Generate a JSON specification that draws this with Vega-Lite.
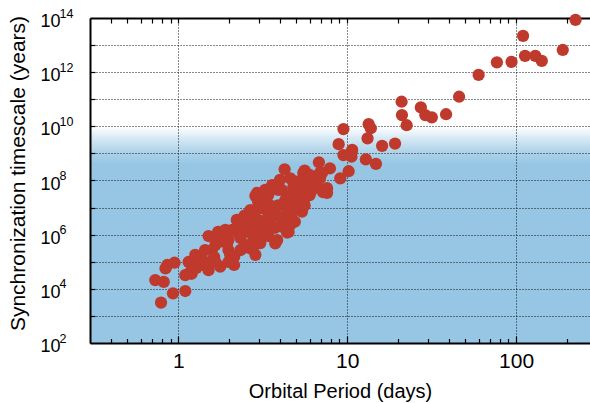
{
  "$schema": "https://vega.github.io/schema/vega-lite/v6.json",
  "autosize": {"type": "none"},
  "padding": {"left": 90, "top": 18, "right": 0, "bottom": 60},
  "width": 500,
  "height": 325,
  "background": "white",
  "view": {
    "stroke": null,
    "fill": {
      "gradient": "linear", "x1": 0, "y1": 0, "x2": 0, "y2": 1,
      "stops": [
        {"offset": 0, "color": "#ffffff"},
        {"offset": 0.335, "color": "#ffffff"},
        {"offset": 0.37, "color": "#d6e9f5"},
        {"offset": 0.41, "color": "#b0d4ea"},
        {"offset": 0.45, "color": "#96c6e4"},
        {"offset": 1, "color": "#96c6e4"}
      ]
    }
  },
  "config": {
    "axis": {
      "labelFont": "Liberation Sans",
      "titleFont": "Liberation Sans",
      "labelColor": "#000",
      "titleColor": "#000",
      "titleFontWeight": "normal",
      "domainColor": "#000",
      "tickColor": "#000",
      "gridColor": "#111",
      "gridDash": [1, 2],
      "gridWidth": 1,
      "zindex": 0
    }
  },
  "data": {
    "values": [
      {"P": 225, "T": 8.5e13}, {"P": 110, "T": 2.2e13}, {"P": 189, "T": 6.6e12}, {"P": 113, "T": 4.0e12},
      {"P": 130, "T": 4.0e12}, {"P": 142, "T": 2.6e12}, {"P": 77, "T": 2.3e12}, {"P": 94, "T": 2.4e12},
      {"P": 60, "T": 7.9e11}, {"P": 46, "T": 1.24e11}, {"P": 38.5, "T": 2.8e10}, {"P": 31.7, "T": 2.15e10},
      {"P": 29, "T": 2.6e10}, {"P": 27.3, "T": 5.0e10}, {"P": 21, "T": 8.1e10}, {"P": 21.1, "T": 2.6e10},
      {"P": 22.5, "T": 1.1e10}, {"P": 19.2, "T": 2.3e9}, {"P": 16.1, "T": 1.9e9}, {"P": 13.4, "T": 1.2e10},
      {"P": 13.8, "T": 8.5e9}, {"P": 13.2, "T": 3.6e9}, {"P": 9.5, "T": 7.9e9}, {"P": 12.9, "T": 6.0e8},
      {"P": 14.8, "T": 4.1e8}, {"P": 10.7, "T": 1.35e9}, {"P": 8.9, "T": 2.2e9}, {"P": 10.2, "T": 2.2e8},
      {"P": 9.1, "T": 1.2e8}, {"P": 7.9, "T": 2.8e8}, {"P": 6.8, "T": 4.7e8}, {"P": 5.6, "T": 2.3e8},
      {"P": 9.5, "T": 8.7e8}, {"P": 10.6, "T": 7.6e8}, {"P": 7.6, "T": 5.2e7}, {"P": 6.2, "T": 6.8e7},
      {"P": 5.3, "T": 1.0e8}, {"P": 4.26, "T": 2.6e8}, {"P": 6.9, "T": 1.9e8}, {"P": 7.6, "T": 3.5e7},
      {"P": 4.8, "T": 5.1e7}, {"P": 5.6, "T": 2.2e7}, {"P": 2.86, "T": 2.7e7}, {"P": 3.2, "T": 2.9e7},
      {"P": 4.1, "T": 4.5e7}, {"P": 3.6, "T": 6.5e7}, {"P": 5.4, "T": 7.1e6}, {"P": 4.9, "T": 3.0e6},
      {"P": 4.5, "T": 1.25e6}, {"P": 3.75, "T": 4.8e5}, {"P": 2.67, "T": 3.1e5}, {"P": 2.22, "T": 3.5e6},
      {"P": 2.14, "T": 1.5e5}, {"P": 2.14, "T": 7.6e4}, {"P": 0.79, "T": 3.1e3}, {"P": 0.93, "T": 6.8e3},
      {"P": 1.1, "T": 8.3e3}, {"P": 0.73, "T": 2.1e4}, {"P": 0.82, "T": 1.8e4}, {"P": 0.84, "T": 5.7e4},
      {"P": 0.86, "T": 7.6e4}, {"P": 0.95, "T": 9.2e4}, {"P": 1.2, "T": 3.6e4}, {"P": 1.23, "T": 5.7e4},
      {"P": 1.34, "T": 1.45e5}, {"P": 1.51, "T": 4.9e4}, {"P": 1.38, "T": 7.6e4}, {"P": 1.58, "T": 2.7e5},
      {"P": 1.51, "T": 8.9e5}, {"P": 1.73, "T": 1.1e6}, {"P": 1.77, "T": 6.6e4}, {"P": 1.63, "T": 1.5e5},
      {"P": 2.24, "T": 3.2e6}, {"P": 1.85, "T": 5.5e5}, {"P": 2.67, "T": 4.6e6}, {"P": 1.18, "T": 4.2e4},
      {"P": 1.31, "T": 1.5e5}, {"P": 2.26, "T": 1.15e6}, {"P": 2.67, "T": 1.9e6}, {"P": 2.74, "T": 5.3e6},
      {"P": 3.14, "T": 1.05e7}, {"P": 3.18, "T": 1.15e6}, {"P": 2.78, "T": 3.5e5}, {"P": 2.42, "T": 3.2e5},
      {"P": 2.97, "T": 1.6e7}, {"P": 7.1, "T": 1.9e8}, {"P": 7.2, "T": 3.7e7}, {"P": 3.6, "T": 6.8e7},
      {"P": 2.93, "T": 3.5e7}, {"P": 3.9, "T": 4.5e7}, {"P": 4.8, "T": 5.8e7}, {"P": 5.5, "T": 2.5e7},
      {"P": 5.06, "T": 1.05e7}, {"P": 4.4, "T": 6.3e6}, {"P": 3.06, "T": 9.6e6}, {"P": 3.5, "T": 3.5e6},
      {"P": 4.18, "T": 1.9e6}, {"P": 3.85, "T": 6.3e5}, {"P": 2.78, "T": 8.1e5}, {"P": 3.27, "T": 1.9e7},
      {"P": 4.6, "T": 1.9e7}, {"P": 5.8, "T": 6.8e7}, {"P": 6.3, "T": 1.35e8}, {"P": 3.18, "T": 1.5e6},
      {"P": 1.72, "T": 1.26e6}, {"P": 1.98, "T": 6.3e5}, {"P": 2.49, "T": 2.3e6}, {"P": 3.41, "T": 5.3e6},
      {"P": 3.9, "T": 1.2e7}, {"P": 4.6, "T": 5.3e6}, {"P": 4.3, "T": 1.9e7}, {"P": 5.3, "T": 4.5e7},
      {"P": 2.33, "T": 7.6e5}, {"P": 1.98, "T": 2.7e5}, {"P": 1.44, "T": 9.8e4}, {"P": 1.1, "T": 3.2e4},
      {"P": 1.28, "T": 5.9e4}, {"P": 2.97, "T": 3.5e6}, {"P": 2.6, "T": 1.26e6}, {"P": 3.75, "T": 1.8e6},
      {"P": 3.41, "T": 8.9e5}, {"P": 4.7, "T": 2.9e7}, {"P": 6.0, "T": 2.9e7}, {"P": 6.6, "T": 6.8e7},
      {"P": 3.41, "T": 2.9e7}, {"P": 3.75, "T": 8.1e6}, {"P": 2.86, "T": 2.3e6}, {"P": 2.09, "T": 1.5e6},
      {"P": 1.66, "T": 4.2e5}, {"P": 5.5, "T": 1.9e8}, {"P": 10.6, "T": 1.1e9}, {"P": 1.95, "T": 4.9e5},
      {"P": 2.93, "T": 1.15e6}, {"P": 4.4, "T": 1.2e6}, {"P": 2.46, "T": 5.0e6}, {"P": 3.14, "T": 2.6e7},
      {"P": 4.95, "T": 9.0e7},
      {"P": 1.44, "T": 2.7e5}, {"P": 1.66, "T": 6.3e5}, {"P": 1.9, "T": 1.5e6}, {"P": 2.33, "T": 2.3e6},
      {"P": 2.49, "T": 4.2e5}, {"P": 2.86, "T": 1.26e6}, {"P": 3.14, "T": 2.9e6}, {"P": 3.5, "T": 1.8e6},
      {"P": 3.75, "T": 5.4e6}, {"P": 4.12, "T": 3.5e6}, {"P": 4.6, "T": 2.3e6}, {"P": 4.9, "T": 8.1e6},
      {"P": 5.3, "T": 1.9e7}, {"P": 5.6, "T": 1.2e7}, {"P": 4.3, "T": 1.2e7}, {"P": 3.5, "T": 1.2e7},
      {"P": 2.67, "T": 8.1e6}, {"P": 3.27, "T": 4.5e7}, {"P": 4.0, "T": 1.05e8}, {"P": 4.6, "T": 1.2e8},
      {"P": 6.0, "T": 1.6e8}, {"P": 6.9, "T": 1.2e8}, {"P": 6.2, "T": 4.5e7}, {"P": 2.86, "T": 1.8e5},
      {"P": 2.03, "T": 1.8e5}, {"P": 1.66, "T": 9.8e4}, {"P": 1.26, "T": 1.8e5}, {"P": 1.15, "T": 9.8e4},
      {"P": 1.98, "T": 9.8e4}, {"P": 3.06, "T": 4.9e5}, {"P": 2.33, "T": 2.7e5}
    ]
  },
  "layer": [
    {
      "mark": {"type": "point", "opacity": 0},
      "encoding": {
        "x": {"field": "P", "type": "quantitative",
          "scale": {"type": "log", "domain": [0.3, 274], "nice": false},
          "axis": {"orient": "top", "title": null, "labels": false, "grid": false,
            "domain": true, "domainWidth": 2,
            "values": [0.4, 0.5, 0.6, 0.7, 0.8, 0.9, 1, 2, 3, 4, 5, 6, 7, 8, 9, 10, 20, 30, 40, 50, 60, 70, 80, 90, 100, 200],
            "ticks": true, "tickSize": -5, "tickWidth": 1.2}},
        "y": {"field": "T", "type": "quantitative",
          "scale": {"type": "log", "domain": [100, 1e14], "nice": false},
          "axis": {"orient": "left", "title": null, "grid": false, "domain": false, "ticks": false, "tickSize": 0,
            "values": [1e2, 1e4, 1e6, 1e8, 1e10, 1e12, 1e14],
            "labelExpr": "'' + round(log(datum.value) / LN10)",
            "labelFontSize": 12.5, "labelAlign": "left", "labelBaseline": "alphabetic",
            "labelPadding": 31, "labelOffset": -1, "labelFlush": false, "labelOverlap": false}}
      }
    },
    {
      "mark": {"type": "point", "opacity": 0},
      "encoding": {
        "x": {"field": "P", "type": "quantitative",
          "scale": {"type": "log", "domain": [0.3, 274], "nice": false},
          "axis": {"orient": "bottom", "title": null, "labels": false, "grid": false, "domain": false,
            "values": [0.4, 0.5, 0.6, 0.7, 0.8, 0.9, 2, 3, 4, 5, 6, 7, 8, 9, 20, 30, 40, 50, 60, 70, 80, 90, 200],
            "ticks": true, "tickSize": -4.5, "tickWidth": 1.2}},
        "y": {"field": "T", "type": "quantitative",
          "scale": {"type": "log", "domain": [100, 1e14], "nice": false},
          "axis": {"orient": "left", "title": null, "labels": false, "grid": false, "domain": false,
            "values": [1e3, 1e4, 1e5, 1e6, 1e7, 1e8, 1e9, 1e10, 1e11, 1e12, 1e13],
            "ticks": true, "tickSize": -5, "tickWidth": 1.2}}
      }
    },
    {
      "mark": {"type": "point", "opacity": 0},
      "encoding": {
        "x": {"field": "P", "type": "quantitative",
          "scale": {"type": "log", "domain": [0.3, 274], "nice": false},
          "axis": {"orient": "bottom", "title": null, "labels": false, "grid": false, "domain": false,
            "values": [1, 10, 100], "ticks": true, "tickSize": -7, "tickWidth": 1.2}},
        "y": {"field": "T", "type": "quantitative",
          "scale": {"type": "log", "domain": [100, 1e14], "nice": false}, "axis": null}
      }
    },
    {
      "mark": {"type": "circle", "size": 150, "opacity": 1, "color": "#bf3a2c"},
      "encoding": {
        "x": {"field": "P", "type": "quantitative",
          "scale": {"type": "log", "domain": [0.3, 274], "nice": false},
          "axis": {"orient": "bottom", "title": "Orbital Period (days)",
            "values": [1, 10, 100], "format": "~g",
            "grid": true, "domain": true, "domainWidth": 2, "ticks": false, "tickSize": 0,
            "labelFontSize": 21, "labelBaseline": "alphabetic", "labelPadding": 24, "labelFlush": false,
            "titleFontSize": 20, "titleBaseline": "alphabetic", "titleX": 250, "titleY": 54, "titleAlign": "center"}},
        "y": {"field": "T", "type": "quantitative",
          "scale": {"type": "log", "domain": [100, 1e14], "nice": false},
          "axis": {"orient": "left", "title": "Synchronization timescale (years)",
            "values": [1e2, 1e3, 1e4, 1e5, 1e6, 1e7, 1e8, 1e9, 1e10, 1e11, 1e12, 1e13, 1e14],
            "labelExpr": "(round(log(datum.value) / LN10) % 2 == 0) ? '10' : ''",
            "grid": true, "domain": true, "domainWidth": 2, "ticks": false, "tickSize": 0,
            "labelFontSize": 18, "labelAlign": "left", "labelBaseline": "alphabetic",
            "labelPadding": 50, "labelOffset": 8.5, "labelFlush": false, "labelOverlap": false,
            "titleFontSize": 21, "titleAngle": -90, "titleBaseline": "alphabetic", "titleAlign": "center",
            "titleX": -66, "titleY": 155}}
      }
    }
  ],
  "resolve": {"axis": {"x": "independent", "y": "independent"}}
}
